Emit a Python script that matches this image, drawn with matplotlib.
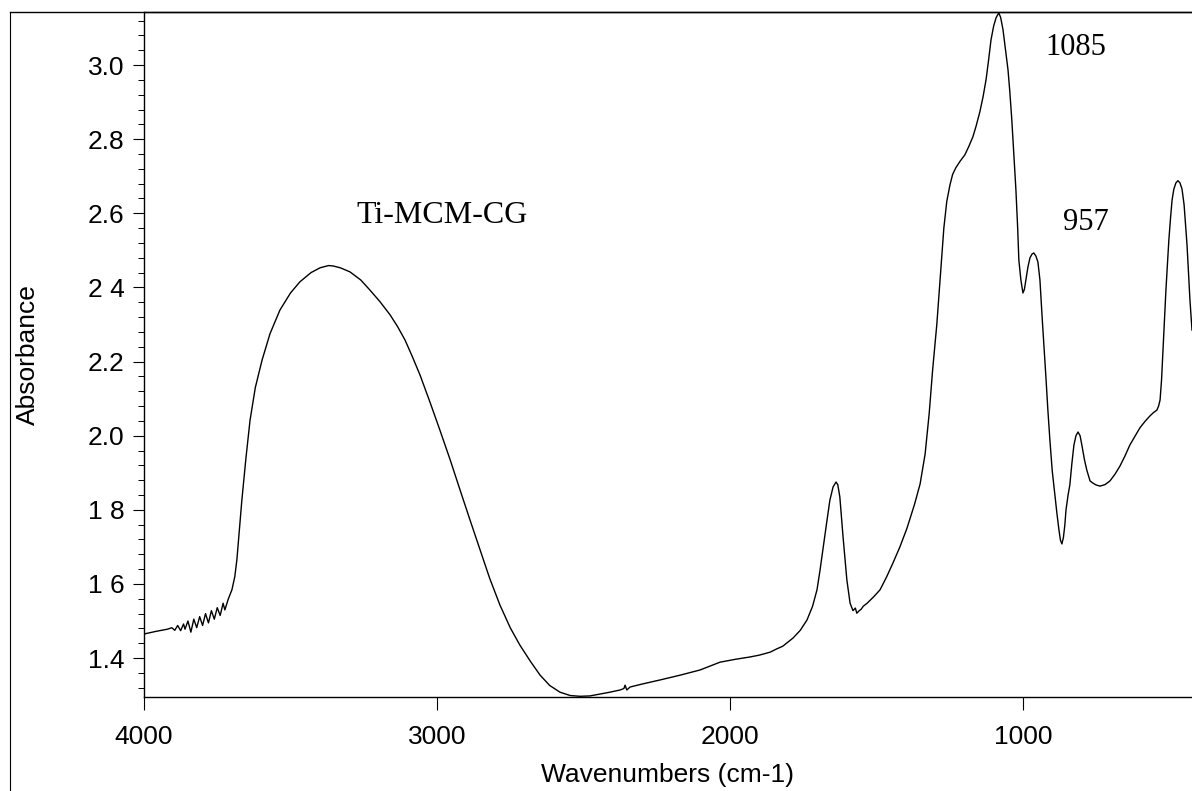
import matplotlib
matplotlib.use('Agg')
import matplotlib.pyplot as plt
from matplotlib.lines import Line2D
from matplotlib.ticker import MultipleLocator, FixedLocator

# IR spectrum, one line per stretch of the curve
wavenumber = (
    [4000, 3960, 3920, 3905, 3895, 3885, 3875, 3865, 3860, 3850, 3840, 3830, 3820, 3810, 3800, 3790, 3780, 3770, 3760, 3750, 3740, 3730, 3724, 3712, 3700]
    + [3690, 3683, 3675, 3666, 3652, 3638, 3620, 3597, 3570, 3536, 3500, 3468, 3430, 3399, 3370, 3355, 3330, 3297, 3260, 3229]
    + [3195, 3160, 3135, 3109, 3085, 3058, 3025, 2990, 2955, 2921, 2887, 2853, 2820, 2785, 2750, 2717, 2680, 2648, 2615, 2580]
    + [2545, 2512, 2478, 2444, 2410, 2375, 2362, 2358, 2352, 2341, 2300, 2239, 2170, 2102, 2034, 1980, 1932, 1900, 1863, 1840]
    + [1820, 1785, 1760, 1737, 1718, 1703, 1693, 1683, 1670, 1659, 1648, 1638, 1632, 1625, 1614, 1601, 1590, 1580, 1572, 1567]
    + [1560, 1552, 1545, 1532, 1510, 1488, 1466, 1444, 1420, 1396, 1370, 1351, 1334, 1320, 1308, 1294, 1282, 1270, 1260, 1249, 1240]
    + [1229, 1215, 1198, 1185, 1171, 1160, 1147, 1136, 1126, 1117, 1109, 1100, 1092, 1086, 1082, 1076, 1068, 1060, 1051, 1045]
    + [1038, 1031, 1024, 1018, 1014, 1007, 1000, 995, 990, 983, 976, 969, 963, 956, 949, 942, 935, 928, 921, 915]
    + [908, 900, 891, 884, 877, 872, 867, 862, 857, 853, 846, 840, 833, 826, 819, 812, 805, 799, 790, 782]
    + [771, 761, 750, 737, 720, 703, 686, 669, 652, 635, 618, 601, 584, 567, 555, 543, 537, 532, 527, 522]
    + [517, 512, 507, 502, 496, 491, 485, 478, 471, 464, 457, 450, 445, 440, 435, 430, 423]
)
absorbance = (
    [1.465, 1.472, 1.478, 1.482, 1.475, 1.488, 1.474, 1.492, 1.478, 1.500, 1.470, 1.505, 1.482, 1.512, 1.488, 1.520, 1.495, 1.528, 1.505, 1.536, 1.515, 1.548, 1.530, 1.560, 1.584]
    + [1.620, 1.665, 1.740, 1.826, 1.940, 2.042, 2.130, 2.204, 2.275, 2.339, 2.385, 2.415, 2.440, 2.453, 2.459, 2.458, 2.453, 2.442, 2.420, 2.393]
    + [2.362, 2.326, 2.295, 2.258, 2.215, 2.164, 2.093, 2.015, 1.935, 1.853, 1.772, 1.692, 1.615, 1.543, 1.482, 1.435, 1.390, 1.354, 1.326, 1.308]
    + [1.299, 1.297, 1.298, 1.303, 1.308, 1.314, 1.318, 1.327, 1.314, 1.322, 1.330, 1.341, 1.354, 1.368, 1.389, 1.397, 1.403, 1.408, 1.416, 1.425]
    + [1.432, 1.454, 1.475, 1.503, 1.540, 1.584, 1.635, 1.692, 1.765, 1.826, 1.862, 1.875, 1.868, 1.835, 1.727, 1.611, 1.548, 1.528, 1.535, 1.521]
    + [1.527, 1.532, 1.540, 1.548, 1.565, 1.584, 1.618, 1.656, 1.700, 1.750, 1.815, 1.870, 1.950, 2.060, 2.180, 2.300, 2.430, 2.560, 2.632, 2.677, 2.705]
    + [2.723, 2.740, 2.758, 2.780, 2.806, 2.835, 2.874, 2.915, 2.960, 3.015, 3.068, 3.105, 3.127, 3.136, 3.140, 3.128, 3.095, 3.045, 2.987, 2.930]
    + [2.852, 2.755, 2.663, 2.560, 2.474, 2.420, 2.385, 2.395, 2.420, 2.455, 2.480, 2.490, 2.493, 2.485, 2.469, 2.420, 2.326, 2.240, 2.150, 2.070]
    + [1.988, 1.905, 1.840, 1.790, 1.745, 1.718, 1.708, 1.725, 1.759, 1.800, 1.840, 1.867, 1.925, 1.975, 2.000, 2.010, 2.000, 1.975, 1.935, 1.907]
    + [1.878, 1.872, 1.867, 1.864, 1.868, 1.878, 1.896, 1.918, 1.945, 1.975, 1.998, 2.021, 2.038, 2.053, 2.062, 2.069, 2.080, 2.096, 2.150, 2.231]
    + [2.310, 2.393, 2.460, 2.528, 2.590, 2.636, 2.665, 2.682, 2.688, 2.682, 2.665, 2.623, 2.570, 2.515, 2.440, 2.366, 2.285]
)

xticks = [4000, 3000, 2000, 1000]
xtick_labels = ['4000', '3000', '2000', '1000']
yticks = [1.4, 1.6, 1.8, 2.0, 2.2, 2.4, 2.6, 2.8, 3.0]
ytick_labels = ['1.4', '1 6', '1 8', '2.0', '2.2', '2 4', '2.6', '2.8', '3.0']

plt.rcParams['font.family'] = ['Liberation Sans', 'DejaVu Sans']

fig = plt.figure(figsize=(11.92, 7.91), dpi=100)
ax = fig.add_axes([0.1208, 0.1188, 0.8792, 0.866])

ax.plot(wavenumber, absorbance, color='black', lw=1.0)

ax.set_xlim(4000, 423)
ax.set_ylim(1.295, 3.143)

ax.xaxis.set_major_locator(FixedLocator(xticks))
ax.set_xticklabels(xtick_labels)
ax.yaxis.set_major_locator(FixedLocator(yticks))
ax.set_yticklabels(ytick_labels)
ax.yaxis.set_minor_locator(MultipleLocator(0.04))

ax.tick_params(axis='both', which='major', labelsize=19, direction='out', width=0.8)
ax.tick_params(axis='x', which='major', length=9, pad=11)
ax.tick_params(axis='y', which='major', length=8, pad=6)
ax.tick_params(axis='y', which='minor', length=4, direction='out', width=0.7)

ax.spines['right'].set_visible(False)
for s in ['left', 'bottom', 'top']:
    ax.spines[s].set_linewidth(1.0)

ax.set_xlabel('Wavenumbers (cm-1)', fontsize=19, labelpad=10)
ax.set_ylabel('Absorbance', fontsize=19)
ax.yaxis.set_label_coords(-0.099, 0.5)

serif = ['Liberation Serif', 'DejaVu Serif']
ax.text(2983, 2.593, 'Ti-MCM-CG', family=serif, fontsize=23, ha='center', va='center')
ax.text(819, 3.046, '1085', family=serif, fontsize=22, ha='center', va='center')
ax.text(785, 2.574, '957', family=serif, fontsize=22, ha='center', va='center')

# outer page frame from the scan
fig.add_artist(Line2D([10 / 1192, 10 / 1192], [0, 1 - 12 / 791], color='black', lw=0.8))
fig.add_artist(Line2D([10 / 1192, 1], [1 - 12 / 791, 1 - 12 / 791], color='black', lw=1.0))

fig.savefig('out.png', dpi=100)
